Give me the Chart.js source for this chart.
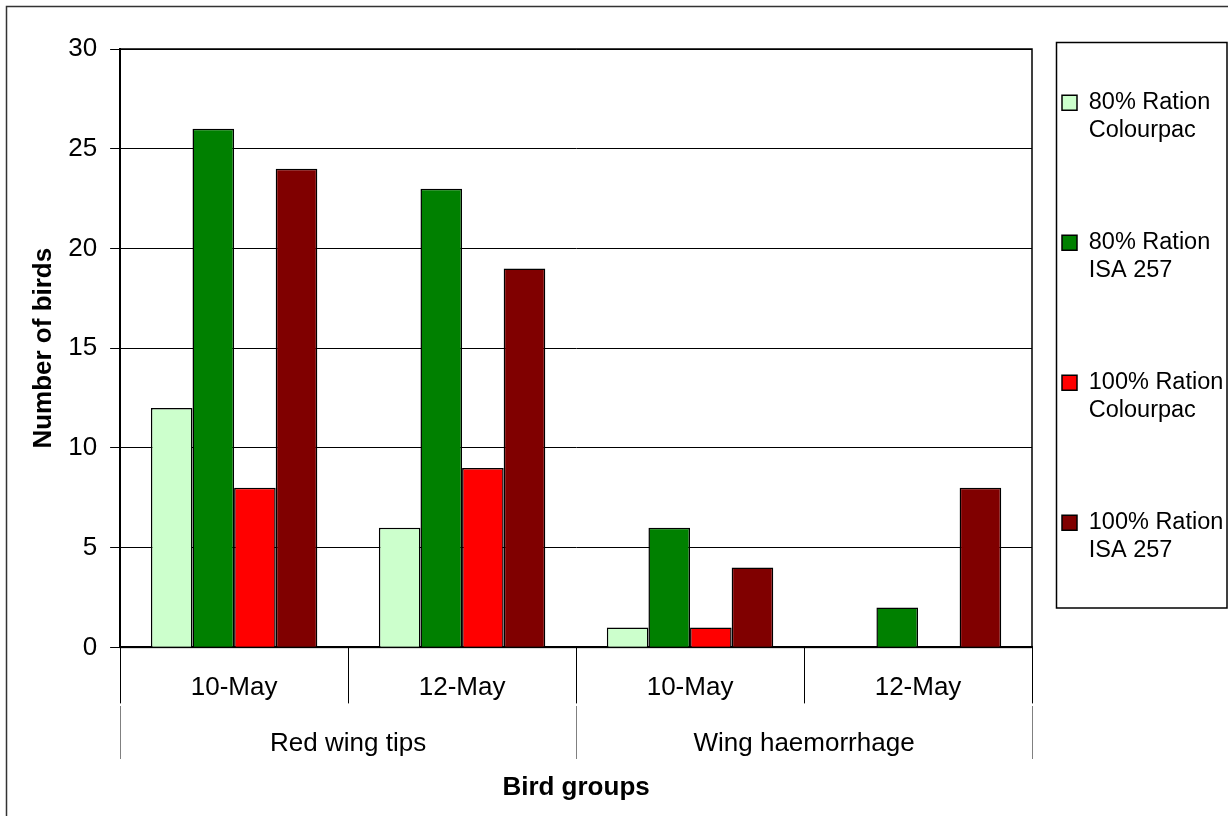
<!DOCTYPE html>
<html>
<head>
<meta charset="utf-8">
<script src="https://cdn.jsdelivr.net/npm/chart.js@4/dist/chart.umd.min.js"></script>
<style>
  html, body { margin: 0; padding: 0; background: #fff; }
  #wrap { width: 1228px; height: 816px; }
</style>
</head>
<body>
<div id="wrap"><canvas id="c" width="1228" height="816"></canvas></div>
<script>
// ---- Data ----
const groups = ['Red wing tips', 'Wing haemorrhage'];
const dates = ['10-May', '12-May', '10-May', '12-May'];
const seriesNames = ['80% Ration\nColourpac', '80% Ration\nISA 257', '100% Ration\nColourpac', '100% Ration\nISA 257'];
const ration80Colourpac = [12, 6, 1, 0];
const ration80Isa257 = [26, 23, 6, 2];
const ration100Colourpac = [8, 9, 1, 0];
const ration100Isa257 = [24, 19, 4, 8];
const yMin = 0, yMax = 30, yStep = 5;
const seriesColors = ['#CCFFCC', '#008000', '#FF0000', '#800000'];

const seriesValues = [ration80Colourpac, ration80Isa257, ration100Colourpac, ration100Isa257];

Chart.defaults.font.family = "'Liberation Sans', Arial, sans-serif";
Chart.defaults.color = '#000';

const decor = {
  id: 'decor',
  beforeDraw(chart) {
    const ctx = chart.ctx;
    ctx.save();
    ctx.fillStyle = '#fff';
    ctx.fillRect(0, 0, chart.width, chart.height);
    ctx.restore();
  },
  afterDraw(chart) {
    const ctx = chart.ctx;
    const a = chart.chartArea;
    ctx.save();
    // plot frame
    ctx.strokeStyle = '#000';
    ctx.lineWidth = 1.5;
    ctx.strokeRect(a.left, a.top, a.right - a.left, a.bottom - a.top);
    // legend frame
    const lg = chart.legend;
    ctx.lineWidth = 1.5;
    ctx.strokeStyle = '#000';
    ctx.strokeRect(lg.left + 24.5, 42.5, 170.5, 565.5);
    // outer border
    ctx.strokeStyle = '#333';
    ctx.lineWidth = 1.5;
    ctx.strokeRect(6.5, 6.5, chart.width + 20, chart.height + 20);
    ctx.restore();
  }
};

new Chart(document.getElementById('c'), {
  type: 'bar',
  data: {
    labels: dates.map(d => [d, '']),
    datasets: seriesValues.map((vals, i) => ({
      label: seriesNames[i],
      data: vals,
      backgroundColor: seriesColors[i],
      borderColor: '#000',
      borderWidth: 1.5,
      barPercentage: 1,
      categoryPercentage: 0.73
    }))
  },
  options: {
    responsive: false,
    animation: false,
    devicePixelRatio: 1,
    layout: { padding: { top: 49, right: 0, bottom: 8.4, left: 0 } },
    plugins: {
      tooltip: { enabled: false },
      legend: {
        position: 'right',
        align: 'start',
        maxWidth: 196,
        title: { display: true, text: ' ', font: { size: 10, lineHeight: 1.2 }, padding: 0 },
        labels: {
          font: { size: 23.5, lineHeight: 1.17 },
          color: '#000',
          boxWidth: 15,
          boxHeight: 15,
          padding: 30,
          generateLabels(chart) {
            const items = Chart.defaults.plugins.legend.labels.generateLabels(chart);
            items.forEach(it => {
              it.text = it.text.split('\n').concat(['', '']);
              it.lineWidth = 1.5;
              it.strokeStyle = '#000';
            });
            return items;
          }
        }
      }
    },
    scales: {
      x: {
        type: 'category',
        position: 'bottom',
        weight: 0,
        offset: true,
        grid: { offset: true, drawOnChartArea: false, drawTicks: true, tickLength: 56, color: '#000', lineWidth: 1 },
        border: { display: true, color: '#000', width: 2 },
        ticks: { font: { size: 26, lineHeight: 1.3 }, color: '#000', padding: -32.5, maxRotation: 0, autoSkip: false }
      },
      x2: {
        type: 'category',
        position: 'bottom',
        weight: 1,
        labels: groups,
        offset: true,
        grid: { offset: true, drawOnChartArea: false, drawTicks: true, tickLength: 53, color: '#808080', lineWidth: 1 },
        border: { display: false },
        ticks: { font: { size: 26, lineHeight: 1.2 }, color: '#000', padding: -31, maxRotation: 0, autoSkip: false },
        title: { display: true, text: 'Bird groups', font: { size: 26, weight: 'bold', lineHeight: 1.2 }, color: '#000', padding: { top: 44.2, bottom: 4 } }
      },
      y: {
        min: yMin,
        max: yMax,
        ticks: { stepSize: yStep, font: { size: 26 }, color: '#000', padding: 13 },
        grid: { color: '#000', lineWidth: 1, tickLength: 10 },
        border: { display: true, color: '#000', width: 2 },
        title: { display: true, text: 'Number of birds', font: { size: 26, weight: 'bold', lineHeight: 0.9 }, color: '#000', padding: { top: 31.8, bottom: 0 } }
      }
    }
  },
  plugins: [decor]
});
</script>
</body>
</html>
